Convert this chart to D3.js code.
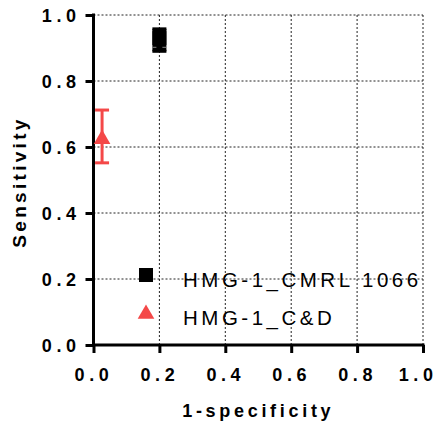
<!DOCTYPE html>
<html>
<head>
<meta charset="utf-8">
<script src="https://cdn.jsdelivr.net/npm/d3@7"></script>
<style>
  html, body { margin: 0; padding: 0; background: #fff; }
  svg { display: block; }
</style>
</head>
<body>
<svg id="chart" width="438" height="426"></svg>
<script>
// Series: mean point with vertical error bar (lower / upper)
const seriesNames = ["HMG-1_CMRL 1066", "HMG-1_C&D"];
const seriesColors = ["#000000", "#f44848"];
const seriesSymbols = ["square", "triangle"];
const xValues = [0.20, 0.026];      // 1-specificity
const yValues = [0.93, 0.63];       // sensitivity
const yLower = [0.89, 0.552];
const yUpper = [0.958, 0.712];
const tickValues = [0, 0.2, 0.4, 0.6, 0.8, 1.0];

const svg = d3.select("#chart");
const plotLeft = 93.5, plotRight = 423, plotTop = 15, plotBottom = 345;

const x = d3.scaleLinear().domain([0, 1]).range([plotLeft, plotRight]);
const y = d3.scaleLinear().domain([0, 1]).range([plotBottom, plotTop]);

// dotted grid
const grid = svg.append("g");
grid.selectAll("line.v").data(tickValues.slice(1)).join("line")
  .attr("class", "v")
  .attr("x1", d => x(d)).attr("x2", d => x(d))
  .attr("y1", plotTop).attr("y2", plotBottom)
  .attr("stroke", "#222").attr("stroke-width", 1).attr("stroke-dasharray", "2,2");
grid.selectAll("line.h").data(tickValues.slice(1)).join("line")
  .attr("class", "h")
  .attr("x1", plotLeft).attr("x2", plotRight)
  .attr("y1", d => y(d)).attr("y2", d => y(d))
  .attr("stroke", "#222").attr("stroke-width", 1).attr("stroke-dasharray", "2,2");

const fmt = d3.format(".1f");
const fontFam = "'Liberation Sans', Arial, sans-serif";
const tickSpacing = 4.6;

// x axis
const xAxis = svg.append("g").attr("transform", `translate(0,${plotBottom})`)
  .call(d3.axisBottom(x).tickValues(tickValues).tickFormat(fmt).tickSize(8).tickPadding(15));
// y axis
const yAxis = svg.append("g").attr("transform", `translate(${plotLeft},0)`)
  .call(d3.axisLeft(y).tickValues(tickValues).tickFormat(fmt).tickSize(8).tickPadding(9.5));

[xAxis, yAxis].forEach(g => {
  g.select(".domain").attr("stroke", "#000").attr("stroke-width", 3);
  g.selectAll(".tick line").attr("stroke", "#000").attr("stroke-width", 3);
  g.selectAll(".tick text")
    .attr("fill", "#000")
    .style("font-family", fontFam)
    .style("font-size", "18px")
    .style("font-weight", "bold")
    .style("letter-spacing", tickSpacing + "px");
});
yAxis.selectAll(".tick text").attr("dx", tickSpacing + "px").attr("dy", "0.36em");
// keep the last x label inside the canvas
xAxis.selectAll(".tick text").filter(d => d === 1)
  .attr("text-anchor", "end").attr("dx", "14px");
xAxis.select(".domain").attr("d", `M${plotLeft - 1.5},0H${plotRight + 1.5}`);
yAxis.select(".domain").attr("d", `M0,${plotTop - 1.5}V${plotBottom + 1.5}`);

// axis titles
svg.append("text")
  .attr("x", (plotLeft + plotRight) / 2).attr("y", 417)
  .attr("text-anchor", "middle")
  .style("font-family", fontFam).style("font-size", "18px").style("font-weight", "bold")
  .style("letter-spacing", "3.7px")
  .text("1-specificity");
svg.append("text")
  .attr("transform", `translate(26,${(plotTop + plotBottom) / 2 + 2}) rotate(-90)`)
  .attr("text-anchor", "middle")
  .style("font-family", fontFam).style("font-size", "19px").style("font-weight", "bold")
  .style("letter-spacing", "3.3px")
  .text("Sensitivity");

const symbolGen = (type) => d3.symbol()
  .type(type === "square" ? d3.symbolSquare : d3.symbolTriangle)
  .size(type === "square" ? 196 : 120);

// error bars + markers (square series uses a bar as wide as its marker)
const capHalf = 7;
seriesNames.forEach((name, i) => {
  const g = svg.append("g");
  const cx = x(xValues[i]);
  const col = seriesColors[i];
  const isSquare = seriesSymbols[i] === "square";
  g.append("line").attr("x1", cx).attr("x2", cx)
    .attr("y1", y(yLower[i])).attr("y2", y(yUpper[i]))
    .attr("stroke", col).attr("stroke-width", isSquare ? 14 : 3);
  [yLower[i], yUpper[i]].forEach(v => {
    g.append("line").attr("x1", cx - capHalf).attr("x2", cx + capHalf)
      .attr("y1", y(v)).attr("y2", y(v))
      .attr("stroke", col).attr("stroke-width", 3);
  });
  if (isSquare) {
    // faint seam where the lower bar meets the marker
    g.append("line").attr("x1", cx - capHalf).attr("x2", cx + capHalf)
      .attr("y1", y(yLower[i]) - 4).attr("y2", y(yLower[i]) - 4)
      .attr("stroke", "#888").attr("stroke-width", 1).attr("stroke-dasharray", "4,6");
  }
  g.append("path")
    .attr("d", symbolGen(seriesSymbols[i])())
    .attr("transform", `translate(${cx},${y(yValues[i]) + (isSquare ? 0 : 2)})`)
    .attr("fill", col);
});

// legend
const legend = svg.append("g");
const legendY = [275, 313];
seriesNames.forEach((name, i) => {
  legend.append("path")
    .attr("d", symbolGen(seriesSymbols[i])())
    .attr("transform", `translate(146,${legendY[i] + (seriesSymbols[i] === "triangle" ? 1 : 0)})`)
    .attr("fill", seriesColors[i]);
  legend.append("text")
    .attr("x", 183).attr("y", legendY[i] + 12)
    .style("font-family", fontFam).style("font-size", "20.5px")
    .style("letter-spacing", "3.5px")
    .attr("fill", "#000")
    .text(name);
});
</script>
</body>
</html>
